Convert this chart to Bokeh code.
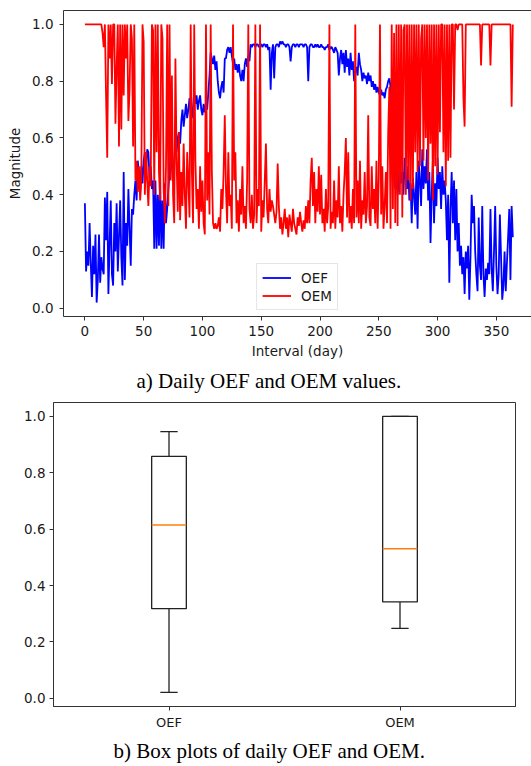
from bokeh.plotting import figure
from bokeh.models import (FixedTicker, PrintfTickFormatter, Title, Legend, LegendItem,
                          Range1d, ColumnDataSource, LinearAxis)
from bokeh.embed import file_html
from bokeh.resources import INLINE

# ---------------- data ----------------
oef = [
    0.37, 0.13, 0.20, 0.15, 0.30, 0.16, 0.04, 0.22, 0.12, 0.26,
    0.02, 0.10, 0.26, 0.09, 0.18, 0.14, 0.12, 0.39, 0.24, 0.41,
    0.05, 0.22, 0.38, 0.12, 0.08, 0.30, 0.20, 0.37, 0.13, 0.25,
    0.38, 0.18, 0.08, 0.48, 0.10, 0.30, 0.22, 0.42, 0.28, 0.15,
    0.35, 0.33, 0.40, 0.45, 0.38, 0.52, 0.47, 0.40, 0.50, 0.44,
    0.52, 0.55, 0.48, 0.56, 0.55, 0.46, 0.50, 0.42, 0.45, 0.21,
    0.45, 0.21, 0.40, 0.22, 0.46, 0.21, 0.38, 0.21, 0.44, 0.30,
    0.35, 0.42, 0.48, 0.55, 0.50, 0.45, 0.52, 0.58, 0.55, 0.60,
    0.62, 0.58, 0.66, 0.70, 0.64, 0.68, 0.72, 0.67, 0.70, 0.74,
    0.69, 0.67, 0.71, 0.76, 0.72, 0.75, 0.70, 0.73, 0.75, 0.70,
    0.68, 0.72, 0.69, 0.72, 0.70, 0.76, 0.82, 0.90, 0.88, 0.86,
    0.89, 0.84, 0.87, 0.80, 0.76, 0.74, 0.78, 0.80, 0.76, 0.88,
    0.88, 0.91, 0.92, 0.90, 0.92, 0.89, 0.86, 0.88, 0.84, 0.86,
    0.83, 0.86, 0.82, 0.80, 0.84, 0.80, 0.86, 0.88, 0.85, 0.89,
    0.87, 0.93, 0.92, 0.93, 0.93, 0.92, 0.93, 0.93, 0.92, 0.93,
    0.93, 0.92, 0.93, 0.93, 0.92, 0.93, 0.91, 0.92, 0.77, 0.90,
    0.93, 0.81, 0.92, 0.93, 0.93, 0.92, 0.94, 0.93, 0.94, 0.93,
    0.93, 0.92, 0.93, 0.93, 0.92, 0.87, 0.92, 0.93, 0.93, 0.92,
    0.93, 0.93, 0.92, 0.93, 0.93, 0.93, 0.92, 0.93, 0.93, 0.92,
    0.80, 0.92, 0.93, 0.93, 0.92, 0.92, 0.93, 0.92, 0.93, 0.92,
    0.92, 0.93, 0.92, 0.92, 0.91, 0.92, 0.92, 0.93, 0.91, 0.92,
    0.92, 0.91, 0.90, 0.92, 0.91, 0.90, 0.82, 0.88, 0.91, 0.86,
    0.90, 0.83, 0.91, 0.85, 0.88, 0.82, 0.90, 0.84, 0.87, 0.80,
    0.83, 0.85, 0.82, 0.90, 0.86, 0.84, 0.80, 0.83, 0.81, 0.82,
    0.79, 0.83, 0.80, 0.82, 0.78, 0.80, 0.77, 0.79, 0.76, 0.78,
    0.76, 0.75, 0.77, 0.75, 0.76, 0.74, 0.77, 0.78, 0.80, 0.81,
    0.78, 0.72, 0.62, 0.50, 0.42, 0.48, 0.40, 0.45, 0.52, 0.44,
    0.48, 0.40, 0.53, 0.46, 0.42, 0.50, 0.38, 0.44, 0.30, 0.46,
    0.40, 0.33, 0.48, 0.28, 0.52, 0.45, 0.36, 0.56, 0.42, 0.50,
    0.44, 0.56, 0.38, 0.48, 0.23, 0.40, 0.52, 0.30, 0.44, 0.36,
    0.53, 0.42, 0.48, 0.35, 0.50, 0.40, 0.45, 0.38, 0.24, 0.40,
    0.09, 0.35, 0.48, 0.30, 0.45, 0.24, 0.42, 0.20, 0.30, 0.15,
    0.22, 0.12, 0.18, 0.05, 0.20, 0.14, 0.22, 0.03, 0.18, 0.40,
    0.30, 0.36, 0.20, 0.12, 0.06, 0.32, 0.15, 0.10, 0.36, 0.12,
    0.04, 0.14, 0.10, 0.16, 0.12, 0.35, 0.14, 0.06, 0.20, 0.36,
    0.15, 0.05, 0.12, 0.33, 0.18, 0.03, 0.08, 0.20, 0.06, 0.16,
    0.25, 0.35, 0.10, 0.36, 0.25,
]

oem = [
    1.00, 1.00, 1.00, 1.00, 1.00, 1.00, 1.00, 1.00, 1.00, 1.00,
    1.00, 1.00, 1.00, 1.00, 1.00, 0.97, 0.92, 1.00, 0.75, 0.53,
    1.00, 0.88, 1.00, 0.79, 1.00, 1.00, 0.65, 0.85, 1.00, 0.57,
    1.00, 0.63, 1.00, 0.75, 1.00, 0.88, 1.00, 0.66, 0.77, 1.00,
    0.95, 0.57, 1.00, 0.45, 0.52, 0.41, 0.50, 0.38, 0.46, 1.00,
    0.94, 0.40, 0.55, 0.45, 0.36, 0.50, 0.43, 1.00, 0.98, 0.40,
    1.00, 0.55, 1.00, 0.48, 0.38, 1.00, 0.95, 0.42, 0.30, 0.50,
    1.00, 0.36, 1.00, 0.45, 0.82, 0.40, 0.30, 0.88, 0.52, 0.34,
    0.62, 0.31, 0.48, 0.36, 0.58, 0.40, 0.28, 0.55, 0.45, 0.32,
    1.00, 0.48, 0.30, 1.00, 0.52, 0.35, 0.42, 0.28, 0.50, 0.34,
    0.45, 0.30, 0.26, 1.00, 0.38, 0.55, 0.33, 1.00, 0.48, 0.30,
    0.28, 0.30, 0.28, 0.29, 0.32, 0.27, 0.42, 0.35, 0.48, 0.68,
    0.42, 0.30, 0.55, 0.36, 0.40, 0.28, 1.00, 0.45, 0.55, 0.30,
    0.38, 0.27, 0.42, 0.33, 0.50, 0.30, 0.36, 0.28, 0.45, 1.00,
    0.35, 0.30, 0.40, 0.28, 0.33, 1.00, 0.30, 0.42, 0.36, 1.00,
    0.27, 0.38, 0.32, 0.45, 0.58, 0.35, 0.30, 0.42, 0.34, 0.38,
    0.36, 0.33, 0.30, 0.34, 0.51, 0.36, 0.28, 0.32, 0.26, 0.30,
    0.35, 0.28, 0.32, 0.25, 0.33, 0.30, 0.27, 0.35, 0.30, 0.28,
    0.26, 0.32, 0.29, 0.34, 0.30, 0.27, 0.31, 0.28, 0.36, 0.30,
    0.38, 0.30, 0.45, 0.53, 0.36, 0.48, 0.30, 0.42, 0.34, 0.50,
    0.33, 0.47, 0.30, 0.35, 0.27, 0.42, 0.30, 0.36, 1.00, 0.28,
    0.34, 0.30, 0.45, 0.28, 0.38, 0.32, 0.50, 0.30, 0.36, 0.27,
    0.40, 0.48, 0.60, 0.32, 0.55, 0.30, 0.36, 0.28, 0.42, 0.30,
    1.00, 0.32, 0.45, 0.30, 0.52, 0.28, 0.38, 0.33, 0.48, 0.30,
    0.36, 0.68, 0.32, 0.29, 0.50, 0.35, 0.42, 0.30, 0.52, 0.28,
    0.46, 1.00, 0.33, 0.50, 0.28, 0.36, 0.48, 0.30, 0.62, 0.78,
    0.28, 1.00, 0.35, 0.97, 0.30, 1.00, 0.29, 1.00, 0.40, 1.00,
    0.32, 0.98, 1.00, 0.40, 1.00, 0.45, 1.00, 0.38, 1.00, 0.42,
    1.00, 0.55, 1.00, 0.48, 1.00, 0.50, 0.95, 1.00, 0.52, 1.00,
    0.60, 1.00, 0.45, 1.00, 0.58, 1.00, 0.38, 1.00, 0.50, 1.00,
    0.47, 1.00, 0.62, 1.00, 1.00, 0.55, 1.00, 0.43, 1.00, 0.52,
    1.00, 0.53, 1.00, 1.00, 0.70, 1.00, 1.00, 0.98, 1.00, 1.00,
    1.00, 1.00, 0.74, 0.64, 1.00, 1.00, 1.00, 1.00, 1.00, 1.00,
    1.00, 1.00, 1.00, 1.00, 1.00, 1.00, 1.00, 0.855, 1.00, 1.00,
    1.00, 1.00, 1.00, 1.00, 1.00, 0.855, 1.00, 1.00, 1.00, 1.00,
    1.00, 1.00, 1.00, 1.00, 1.00, 1.00, 1.00, 1.00, 1.00, 1.00,
    1.00, 1.00, 1.00, 0.71, 1.00,
]

days = list(range(len(oef)))

x_ticks = [0, 50, 100, 150, 200, 250, 300, 350]
y_ticks = [0.0, 0.2, 0.4, 0.6, 0.8, 1.0]

# box plot statistics
box_labels = ["OEF", "OEM"]
box_q1 = [0.318, 0.342]
box_median = [0.615, 0.530]
box_q3 = [0.858, 1.000]
box_whisker_low = [0.021, 0.248]
box_whisker_high = [0.946, 1.000]

caption_a = "a) Daily OEF and OEM values."
caption_b = "b) Box plots of daily OEF and OEM."

# ---------------- styling ----------------
FONT = "DejaVu Sans"
SERIF = "Liberation Serif"
TXT = "#1a1a1a"
AX = "#333333"


def style_axis(ax, size, standoff):
    ax.major_label_text_font = FONT
    ax.major_label_text_font_size = size
    ax.major_label_text_color = TXT
    ax.major_label_standoff = standoff
    ax.axis_label_text_font = FONT
    ax.axis_label_text_font_size = size
    ax.axis_label_text_font_style = "normal"
    ax.axis_label_text_color = TXT
    ax.axis_line_color = AX
    ax.axis_line_width = 1
    ax.major_tick_line_color = AX
    ax.minor_tick_line_color = None
    ax.major_tick_in = 0
    ax.major_tick_out = 4


# ---------------- top: daily lines ----------------
p1 = figure(width=531, height=398, output_backend="svg", toolbar_location=None,
            x_range=Range1d(-18.2, 379.9), y_range=Range1d(-0.029, 1.049),
            min_border_left=63, min_border_right=0, min_border_top=10,
            min_border_bottom=82)
p1.grid.visible = False
p1.outline_line_color = None
p1.background_fill_color = "white"
p1.border_fill_color = "white"

src = ColumnDataSource(dict(day=days, oef=oef, oem=oem))
r_oef = p1.line("day", "oef", source=src, color="#0000ff", line_width=1.8)
r_oem = p1.line("day", "oem", source=src, color="#ff0000", line_width=1.8)

p1.xaxis.ticker = FixedTicker(ticks=x_ticks)
p1.yaxis.ticker = FixedTicker(ticks=y_ticks)
p1.yaxis.formatter = PrintfTickFormatter(format="%.1f")
p1.xaxis.axis_label = "Interval (day)"
p1.yaxis.axis_label = "Magnitude"
style_axis(p1.xaxis[0], "13.5px", 5)
style_axis(p1.yaxis[0], "13.5px", 6)
p1.xaxis.axis_label_standoff = 4
p1.yaxis.axis_label_standoff = 6

top_axis = LinearAxis(ticker=FixedTicker(ticks=[]), major_label_text_font_size="0px",
                      axis_line_color=AX, major_tick_line_color=None,
                      minor_tick_line_color=None, major_tick_out=0)
p1.add_layout(top_axis, "above")

legend = Legend(items=[LegendItem(label="OEF", renderers=[r_oef]),
                       LegendItem(label="OEM", renderers=[r_oem])],
                location="bottom_center", orientation="vertical",
                label_text_font=FONT, label_text_font_size="13.5px", label_text_color=TXT,
                glyph_width=29, glyph_height=17, label_height=17, label_standoff=10,
                padding=5, spacing=1, margin=6,
                border_line_color="#cccccc", border_line_width=1,
                background_fill_color="white", background_fill_alpha=0.8)
p1.add_layout(legend)

cap1 = Title(text=caption_a, align="left", offset=73, text_font=SERIF,
             text_font_size="21px", text_font_style="normal", text_color="black",
             standoff=10)
p1.add_layout(cap1, "below")

# ---------------- bottom: box plots ----------------
p2 = figure(width=531, height=368, output_backend="svg", toolbar_location=None,
            x_range=Range1d(0.5, 2.5), y_range=Range1d(-0.029, 1.049),
            min_border_left=53, min_border_right=16, min_border_top=4,
            min_border_bottom=58)
p2.grid.visible = False
p2.outline_line_color = AX
p2.outline_line_width = 1
p2.background_fill_color = "white"
p2.border_fill_color = "white"

pos = [i + 1 for i in range(len(box_labels))]
box_w = 0.15
cap_half = box_w / 4
bsrc = ColumnDataSource(dict(
    pos=pos, q1=box_q1, q3=box_q3, med=box_median,
    lo=box_whisker_low, hi=box_whisker_high,
    left=[p - box_w / 2 for p in pos], right=[p + box_w / 2 for p in pos],
    cl=[p - cap_half for p in pos], cr=[p + cap_half for p in pos],
))
p2.segment(x0="pos", x1="pos", y0="q3", y1="hi", source=bsrc, line_color="#222222", line_width=1.3)
p2.segment(x0="pos", x1="pos", y0="q1", y1="lo", source=bsrc, line_color="#222222", line_width=1.3)
p2.segment(x0="cl", x1="cr", y0="hi", y1="hi", source=bsrc, line_color="#222222", line_width=1.3)
p2.segment(x0="cl", x1="cr", y0="lo", y1="lo", source=bsrc, line_color="#222222", line_width=1.3)
p2.quad(left="left", right="right", bottom="q1", top="q3", source=bsrc,
        fill_color="white", line_color="#222222", line_width=1.3)
p2.segment(x0="left", x1="right", y0="med", y1="med", source=bsrc,
           line_color="#ff7f0e", line_width=1.5)

p2.xaxis.ticker = FixedTicker(ticks=pos)
p2.xaxis.major_label_overrides = {p: lab for p, lab in zip(pos, box_labels)}
p2.yaxis.ticker = FixedTicker(ticks=y_ticks)
p2.yaxis.formatter = PrintfTickFormatter(format="%.1f")
style_axis(p2.xaxis[0], "13px", 4)
style_axis(p2.yaxis[0], "13.5px", 4)

cap2 = Title(text=caption_b, align="left", offset=60, text_font=SERIF,
             text_font_size="21px", text_font_style="normal", text_color="black",
             standoff=8)
p2.add_layout(cap2, "below")

# two independent roots so that the frames are not aligned with each other
with open("out.html", "w") as f:
    f.write(file_html((p1, p2), INLINE))
